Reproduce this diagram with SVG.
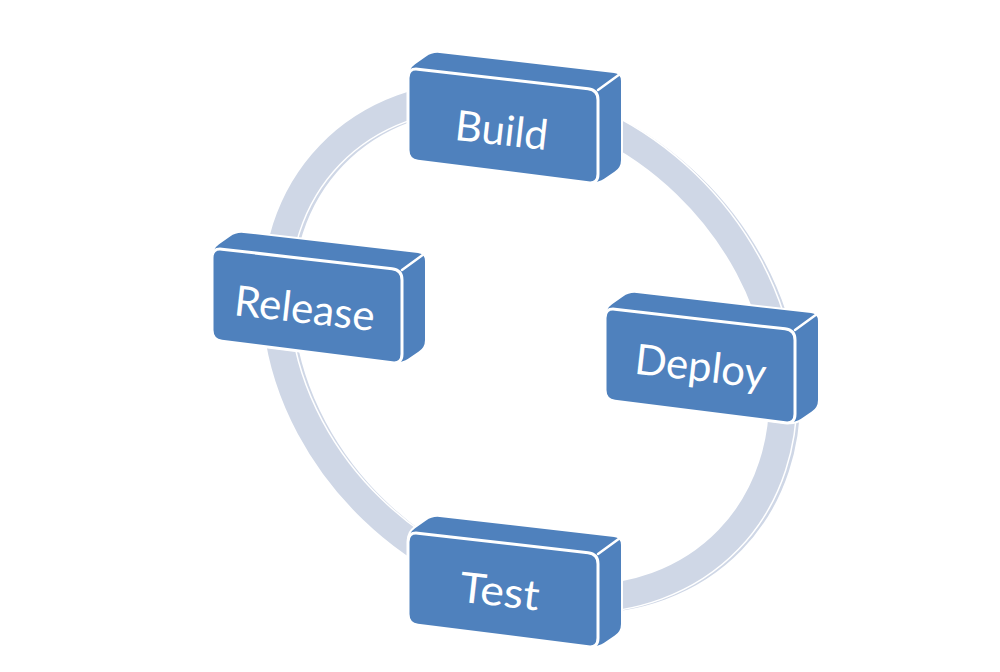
<svg xmlns="http://www.w3.org/2000/svg" width="1000" height="672" viewBox="0 0 1000 672">
  <defs>
    <style>
      .ring-back { fill: none; stroke: #CFD7E6; stroke-width: 27; }
      .ring-edge { fill: none; stroke: #FFFFFF; stroke-width: 30; }
      .ring-front { fill: none; stroke: #CFD7E6; stroke-width: 27; }
      .box-body { fill: #4F81BD; stroke: #FFFFFF; stroke-width: 2; stroke-linejoin: round; }
      .box-face { fill: #4F81BD; stroke: #FFFFFF; stroke-width: 3; stroke-linejoin: round; }
      .box-ridge { fill: none; stroke: #FFFFFF; stroke-width: 2.5; stroke-linecap: round; }
      .label { fill: #FFFFFF; font-family: Lato, "Open Sans", "Liberation Sans", sans-serif; font-size: 42px; text-anchor: middle; }
    </style>
    <!-- extruded block: silhouette (top + side faces) then the front face -->
    <path id="block-body" d="M 0,84 L 0,8 Q 0,0 6.5,-4.6 L 17.5,-12.4 Q 24,-17 31.9,-16.1 L 206.1,4.1 Q 214,5 214,13 L 214,92 Q 214,100 207.3,104.4 L 196.7,111.6 Q 190,116 182.1,115 L 7.9,93 Q 0,92 0,84 Z"/>
    <path id="block-face" d="M 0,10 Q 0,0 9.9,1.15 L 180.1,20.85 Q 190,22 190,32 L 190,106 Q 190,116 180.1,114.75 L 9.9,93.25 Q 0,92 0,82 Z"/>
    <ellipse id="ring" cx="529" cy="347" rx="277" ry="226" transform="rotate(44 529 347)"/>
  </defs>

  <rect width="1000" height="672" fill="#FFFFFF"/>

  <!-- cycle ring: offset back band, white seam, front band -->
  <g id="connectors">
    <use href="#ring" class="ring-back" transform="translate(4 1)"/>
    <use href="#ring" class="ring-edge"/>
    <use href="#ring" class="ring-front"/>
  </g>

  <g id="node-build" transform="translate(408 68)">
    <use href="#block-body" class="box-body"/>
    <line class="box-ridge" x1="190" y1="22" x2="212" y2="6"/>
    <use href="#block-face" class="box-face"/>
    <text class="label" x="92" y="77" transform="rotate(6.5 92 77)" textLength="93" lengthAdjust="spacingAndGlyphs">Build</text>
  </g>

  <g id="node-release" transform="translate(212 248)">
    <use href="#block-body" class="box-body"/>
    <line class="box-ridge" x1="190" y1="22" x2="212" y2="6"/>
    <use href="#block-face" class="box-face"/>
    <text class="label" x="91" y="75" transform="rotate(6.5 91 75)" textLength="141" lengthAdjust="spacingAndGlyphs">Release</text>
  </g>

  <g id="node-deploy" transform="translate(605 308)">
    <use href="#block-body" class="box-body"/>
    <line class="box-ridge" x1="190" y1="22" x2="212" y2="6"/>
    <use href="#block-face" class="box-face"/>
    <text class="label" x="94" y="73" transform="rotate(6.5 94 73)" textLength="132" lengthAdjust="spacingAndGlyphs">Deploy</text>
  </g>

  <g id="node-test" transform="translate(408 532)">
    <use href="#block-body" class="box-body"/>
    <line class="box-ridge" x1="190" y1="22" x2="212" y2="6"/>
    <use href="#block-face" class="box-face"/>
    <text class="label" x="90" y="74" transform="rotate(6.5 90 74)" textLength="80" lengthAdjust="spacingAndGlyphs">Test</text>
  </g>
</svg>
